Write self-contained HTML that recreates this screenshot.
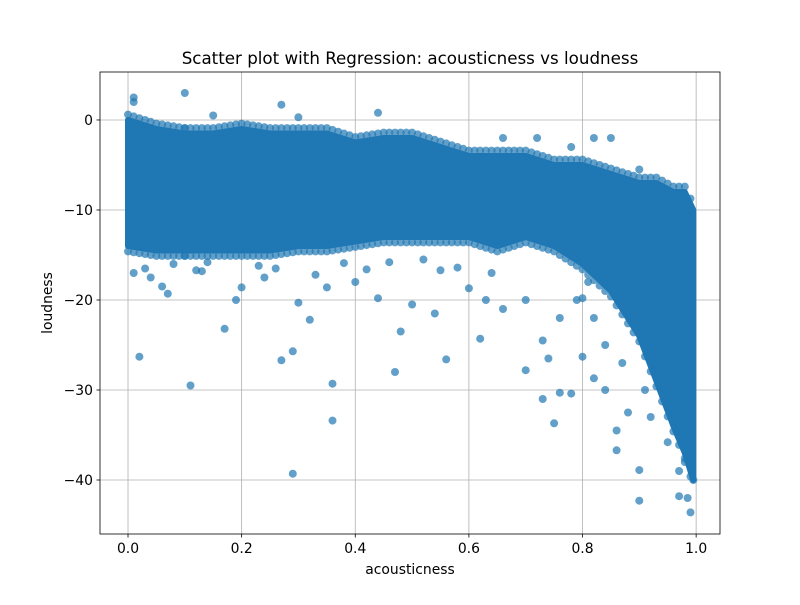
<!DOCTYPE html>
<html><head><meta charset="utf-8"><style>
body{margin:0;background:#fff}
svg text{font-family:"DejaVu Sans","Liberation Sans",sans-serif;fill:#000}
</style></head><body>
<svg id="chart" width="800" height="600">
<rect width="800" height="600" fill="#fff"/>
<g id="grid"></g>
<g id="marks"></g>
<g id="axes"></g>
</svg>
<script>
// band of dense points: acousticness bin, loudness top, loudness bottom
const bandX=[0.0,0.05,0.1,0.15,0.2,0.25,0.3,0.35,0.4,0.45,0.5,0.55,0.6,0.65,0.7,0.75,0.8,0.85,0.9,0.93,0.96,0.98,0.995];
const bandTop=[0,-1,-1.5,-1.5,-1,-1.5,-1.5,-1.5,-2.5,-2,-2,-3,-4,-4,-4,-5,-5,-6,-7,-7,-8,-8,-10];
const bandBottom=[-14,-14.5,-14.5,-14.5,-14.5,-14.5,-14,-14,-13.5,-13,-13,-13,-13,-14,-13,-14,-16,-19,-24,-29,-34,-37,-40];
// scattered outliers
const outX=[0.01,0.01,0.1,0.15,0.27,0.44,0.3,0.02,0.11,0.17,0.07,0.29,0.27,0.29,0.32,0.36,0.36,0.47,0.48,0.56,0.44,0.5,0.54,0.62,0.63,0.4,0.3,0.2,0.19,0.06,0.04,0.55,0.6,0.7,0.73,0.74,0.73,0.75,0.76,0.78,0.8,0.82,0.84,0.86,0.86,0.9,0.9,0.97,0.99,0.98,0.95,0.92,0.88,0.82,0.85,0.72,0.66,0.78,0.9,0.94,0.82,0.8,0.76,0.7,0.66,0.64,0.84,0.87,0.93,0.91,0.89,0.85,0.81,0.79,0.97,0.995,0.985,0.01,0.03,0.08,0.12,0.14,0.23,0.26,0.33,0.38,0.42,0.46,0.52,0.58,0.35,0.24,0.13];
const outY=[2.0,2.5,3,0.5,1.7,0.8,0.3,-26.3,-29.5,-23.2,-19.3,-39.3,-26.7,-25.7,-22.2,-29.3,-33.4,-28,-23.5,-26.6,-19.8,-20.5,-21.5,-24.3,-20,-18,-20.3,-18.6,-20,-18.5,-17.5,-16.7,-18.7,-27.8,-24.5,-26.5,-31,-33.7,-30.3,-30.4,-26.3,-28.7,-30,-34.5,-36.7,-38.9,-42.3,-41.8,-43.6,-38,-35.8,-33,-32.5,-2,-2,-2,-2,-3,-5.5,-7.5,-22,-19.8,-22,-20,-21,-17,-25,-27,-28,-30,-21,-17,-18,-20,-39,-40,-42,-17,-16.5,-16,-16.7,-15.8,-16.2,-16.5,-17.2,-15.9,-16.6,-15.8,-15.5,-16.4,-18.6,-17.5,-16.8];
const xTicks=[0,0.2,0.4,0.6,0.8,1.0];
const yTicks=[0,-10,-20,-30,-40];

const L=100,R=720,T=72,B=534,xmin=-0.0493,xmax=1.042,ymin=-46.0,ymax=5.33;
const sx=v=>L+(v-xmin)/(xmax-xmin)*(R-L);
const sy=v=>B-(v-ymin)/(ymax-ymin)*(B-T);
const NS='http://www.w3.org/2000/svg';
function mk(tag,attrs,parent){const e=document.createElementNS(NS,tag);for(const k in attrs)e.setAttribute(k,attrs[k]);parent.appendChild(e);return e;}
const grid=document.getElementById('grid'),marks=document.getElementById('marks'),axes=document.getElementById('axes');

xTicks.forEach(t=>{
  const g=mk('line',{x1:sx(t),x2:sx(t),y1:T,y2:B,stroke:'#b0b0b0','stroke-width':0.8},grid);
  
  
  mk('line',{x1:sx(t),x2:sx(t),y1:B,y2:B+3.5,stroke:'#000','stroke-width':0.8},axes);
  const tx=mk('text',{x:sx(t),y:B+19,'font-size':13.9,'text-anchor':'middle'},axes);
  tx.textContent=t.toFixed(1);
  
  
});
yTicks.forEach(t=>{
  const g=mk('line',{x1:L,x2:R,y1:sy(t),y2:sy(t),stroke:'#b0b0b0','stroke-width':0.8},grid);
  
  
  mk('line',{x1:L-3.5,x2:L,y1:sy(t),y2:sy(t),stroke:'#000','stroke-width':0.8},axes);
  const tx=mk('text',{x:L-7,y:sy(t)+5,'font-size':13.9,'text-anchor':'end'},axes);
  tx.textContent=t===0?'0':'\u2212'+Math.abs(t);
  
  
});

function dot(x,y){
  const c=mk('circle',{cx:sx(x).toFixed(1),cy:sy(y).toFixed(1),r:4,fill:'#1f77b4','fill-opacity':0.7},marks);
  
  
}
// dense core polygon from band arrays
let pts=bandX.map((x,i)=>sx(x).toFixed(1)+','+sy(bandTop[i]).toFixed(1));
for(let i=bandX.length-1;i>=0;i--)pts.push(sx(bandX[i]).toFixed(1)+','+sy(bandBottom[i]).toFixed(1));
const core=mk('polygon',{points:pts.join(' '),fill:'#1f77b4',stroke:'#1f77b4','stroke-width':6,'stroke-linejoin':'round'},marks);


// band edge points
for(let i=0;i<bandX.length-1;i++){
  for(let x=bandX[i];x<bandX[i+1];x+=0.01){
    const f=(x-bandX[i])/(bandX[i+1]-bandX[i]);
    const top=bandTop[i]+(bandTop[i+1]-bandTop[i])*f;
    const bot=bandBottom[i]+(bandBottom[i+1]-bandBottom[i])*f;
    dot(x,top+0.6);dot(x,bot-0.6);
  }
}
outX.forEach((x,i)=>dot(x,outY[i]));

const fr=mk('rect',{x:L,y:T,width:R-L,height:B-T,fill:'none',stroke:'#000','stroke-width':0.8},axes);


const title=mk('text',{x:(L+R)/2,y:T-8,'font-size':16.7,'text-anchor':'middle'},axes);
title.textContent='Scatter plot with Regression: acousticness vs loudness';


const xl=mk('text',{x:(L+R)/2,y:574,'font-size':13.9,'text-anchor':'middle'},axes);
xl.textContent='acousticness';


const yl=mk('text',{x:0,y:0,'font-size':13.9,'text-anchor':'middle',transform:`translate(52,${(T+B)/2}) rotate(-90)`},axes);
yl.textContent='loudness';


</script>
</body></html>
